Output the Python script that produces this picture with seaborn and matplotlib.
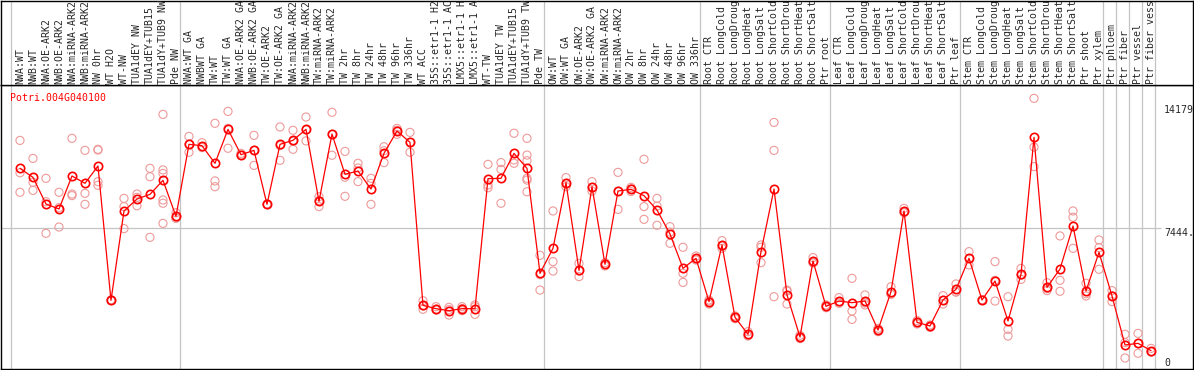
import matplotlib
matplotlib.use("Agg")
import matplotlib.pyplot as plt
import numpy as np
import pandas as pd
import seaborn as sns

gene = "Potri.004G040100"

samples = [
    "NWA:WT", "NWB:WT", "NWA:OE-ARK2", "NWB:OE-ARK2", "NWA:miRNA-ARK2", "NWB:miRNA-ARK2",
    "NW 0hr", "WT H2O", "WT-NW", "TUA1dEY NW", "TUA1dEY+TUB15", "TUA1dY+TUB9 NW", "Pde NW",
    "NWA:WT GA", "NWBWT GA", "TW:WT", "TW:WT GA", "NWA:OE-ARK2 GA", "NWB:OE-ARK2 GA",
    "TW:OE-ARK2", "TW:OE-ARK2 GA", "NWA:miRNA-ARK2", "NWB:miRNA-ARK2", "TW:miRNA-ARK2",
    "TW:miRNA-ARK2", "TW 2hr", "TW 8hr", "TW 24hr", "TW 48hr", "TW 96hr", "TW 336hr",
    "WT ACC", "35S::etr1-1 H2", "35S::etr1-1 AC", "LMX5::etr1-1 H", "LMX5::etr1-1 A",
    "WT-TW", "TUA1dEY TW", "TUA1dEY+TUB15", "TUA1dY+TUB9 TW", "Pde TW",
    "OW:WT", "OW:WT GA", "OW:OE-ARK2", "OW:OE-ARK2 GA", "OW:miRNA-ARK2", "OW:miRNA-ARK2",
    "OW 2hr", "OW 8hr", "OW 24hr", "OW 48hr", "OW 96hr", "OW 336hr",
    "Root CTR", "Root LongCold", "Root LongDroug", "Root LongHeat", "Root LongSalt",
    "Root ShortCold", "Root ShortDrou", "Root ShortHeat", "Root ShortSalt", "Ptr root",
    "Leaf CTR", "Leaf LongCold", "Leaf LongDroug", "Leaf LongHeat", "Leaf LongSalt",
    "Leaf ShortCold", "Leaf ShortDrou", "Leaf ShortHeat", "Leaf ShortSalt", "Ptr leaf",
    "Stem CTR", "Stem LongCold", "Stem LongDroug", "Stem LongHeat", "Stem LongSalt",
    "Stem ShortCold", "Stem ShortDrou", "Stem ShortHeat", "Stem ShortSalt", "Ptr shoot",
    "Ptr xylem", "Ptr phloem", "Ptr fiber", "Ptr vessel", "Ptr fiber vess",
]

# number of samples in each experiment block
group_sizes = [13, 28, 12, 10, 10, 11, 1, 1, 1, 1]

means = [
    10861, 10345, 8818, 8532, 10422, 10002, 10994, 3302, 8417, 9105, 9372, 10173, 8112,
    12235, 12158, 11147, 13094, 11643, 11891, 8799, 12235, 12464, 13094, 8971, 12826,
    10517, 10708, 9677, 11719, 12998, 12349, 3016, 2825, 2710, 2825, 2825,
    10269, 10288, 11719, 10861, 4848,
    6280, 10040, 5020, 9811, 5363, 9563, 9658, 9295, 8475, 7100, 5134, 5707,
    3226, 6470, 2329, 1355, 6089, 9677, 3607, 1202, 5554, 2958,
    3264, 3168, 3264, 1603, 3798, 8417, 2042, 1832, 3321, 3932,
    5707, 3321, 4409, 2119, 4791, 12636, 4046, 5096, 7558, 3837, 6051,
    3550, 744, 840, 420,
]

replicates = [
    [12460, 10610, 9490], [11430, 10060, 9600], [10290, 8950, 7140], [9490, 7500, 8610],
    [12580, 9300, 9390], [11890, 9430, 8800], [11950, 11910, 10100, 9890], [3280, 3330, 3300],
    [9140, 8670, 7410], [9390, 8720, 9200], [10860, 10380, 6910],
    [13950, 10770, 10570, 9050, 8860, 7710], [8320, 8000, 8020],
    [12690, 11780, 12240], [12330, 12100, 12050], [13440, 10140, 9810], [14120, 12010, 13150],
    [11720, 11590, 11620], [12750, 11030, 11890], [8780, 8820, 8800], [13230, 11320, 12160],
    [13040, 11950, 12410], [13800, 12430, 13060], [9240, 8670, 9010], [14070, 11610, 12810],
    [11830, 10350, 9260], [11150, 10100, 10880], [10290, 10000, 8800], [12100, 11190, 11870],
    [13150, 12810, 13040], [12920, 11780, 12350], [3280, 2790, 2980], [2750, 2940, 2790],
    [2900, 2460, 2770], [2940, 2710, 2830], [3040, 2500, 2940], [11090, 9910, 9750],
    [11190, 10800, 8860], [12870, 11340, 11150], [12580, 11620, 11300, 10290, 10190, 9520],
    [5880, 3890, 4770],
    [8420, 5520, 4980], [10330, 9810, 9980], [5420, 4660, 4980], [10100, 9560, 9770],
    [5460, 5270, 5360], [10630, 8510, 9550], [9770, 9530, 9680], [11380, 8670, 7940],
    [9140, 8700, 7600], [7520, 6570, 7210], [6340, 4850, 4330], [5840, 5610, 5670],
    [3320, 3090, 3260], [6720, 6280, 6410], [2410, 2250, 2330], [1510, 1260, 1300],
    [6470, 5460, 6340], [13490, 11890, 3510], [3890, 3090, 3830], [1300, 1110, 1200],
    [5750, 5460, 5450], [3040, 2880, 2960],
    [3460, 3130, 3210], [4560, 2690, 2210], [3610, 3040, 3150], [1700, 1510, 1600],
    [4080, 3650, 3660], [8570, 8320, 8360], [2140, 1950, 2040], [1890, 1760, 1840],
    [3570, 3090, 3300], [4240, 3780, 3780],
    [6090, 5330, 5700], [3330, 3300, 3330], [5520, 3260, 4450], [3510, 1640, 1260],
    [5130, 4500, 4740], [14870, 12080, 10960], [4310, 3860, 3970], [6990, 4450, 3820],
    [8420, 8060, 6280], [4280, 3550, 3680], [6760, 6320, 5080],
    [3860, 3230, 3560], [1360, 0, 880], [1410, 270, 840], [550, 360, 350],
]

scale_labels = ["0", "7444.", "14179"]
scale_values = [0, 7444, 14179]

mean_df = pd.DataFrame({"pos": np.arange(len(samples)), "value": means})
rep_df = pd.DataFrame(
    [(i, v) for i, reps in enumerate(replicates) for v in reps], columns=["pos", "value"]
)

sns.set_theme(style="white")
plt.rcParams["font.family"] = ["DejaVu Sans Mono"]
plt.rcParams["font.size"] = 7.1

W, H = 1194, 370
fig = plt.figure(figsize=(W / 100, H / 100), dpi=100)
ax = fig.add_axes([1 / W, 1 / H, 1192 / W, 284 / H])
hdr = fig.add_axes([1 / W, 285 / H, 1192 / W, 84.5 / H], sharex=ax)

grid_c = "#c4c4c4"
bounds = np.concatenate([[0], np.cumsum(group_sizes)]) - 0.7
for b in bounds:
    ax.axvline(b, color=grid_c, lw=0.9, zorder=0)
    hdr.axvline(b, color=grid_c, lw=0.9, zorder=0)
ax.hlines(scale_values[1], -1.5, len(samples) - 0.2, color=grid_c, lw=0.9, zorder=0)

# individual replicates (pale) and the sample means joined by a line
sns.scatterplot(data=rep_df, x="pos", y="value", ax=ax, marker="o", s=34,
                facecolor="none", edgecolor="#ee9a9a", linewidth=0.8, zorder=2)
sns.lineplot(data=mean_df, x="pos", y="value", ax=ax, color="#ff0000", lw=0.9,
             marker="o", markersize=6, markerfacecolor="none",
             markeredgecolor="#ff0000", markeredgewidth=1.2, zorder=3)

ax.text(0.0075, 0.972, gene, transform=ax.transAxes, color="#ff0000",
        ha="left", va="top", fontsize=7.1)

n = len(samples)
ax.text(n, scale_values[2], scale_labels[2], ha="left", va="center", clip_on=True)
ax.text(n, scale_values[1], scale_labels[1], ha="left", va="top", clip_on=True)
ax.text(n, scale_values[0], scale_labels[0], ha="left", va="top", clip_on=True)

for i, s in enumerate(samples):
    hdr.text(i, 0.012, s, rotation=90, ha="center", va="bottom",
             fontsize=7.1, clip_on=True)

ax.set_xlim(-1.46, 90.23)
ax.set_ylim(-630, 15633)
hdr.set_ylim(0, 1)
for a in (ax, hdr):
    a.set_xticks([])
    a.set_yticks([])
    a.set_xlabel("")
    a.set_ylabel("")
    for sp in a.spines.values():
        sp.set_color("black")
        sp.set_linewidth(1.0)

fig.savefig("out.png", dpi=100, facecolor="white")
